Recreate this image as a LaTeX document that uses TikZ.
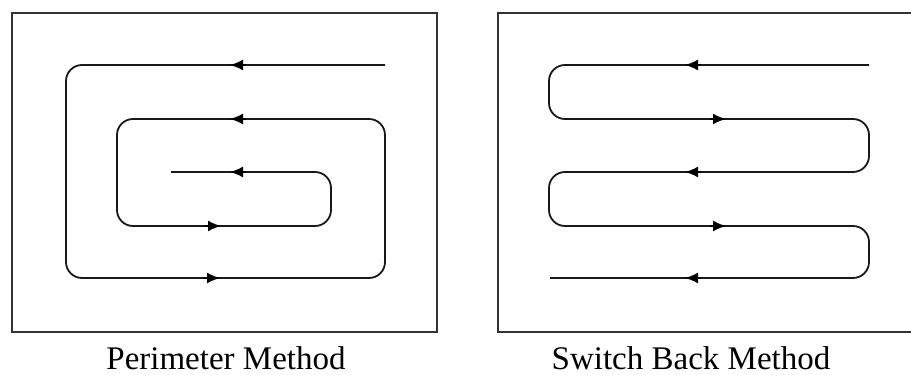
\documentclass[tikz,border=0pt]{standalone}
\usepackage{fontspec}
\setmainfont{Liberation Serif}
\usetikzlibrary{arrows.meta}
\begin{document}
\begin{tikzpicture}[x=1pt,y=-1pt,
  frame/.style={line width=2.2pt,draw=black!80},
  route/.style={line width=1.8pt,draw=black!90,rounded corners=16pt},
  dirtip/.style={line width=1.8pt,-{Latex[length=13pt,width=11pt]}},
  caption/.style={font=\fontsize{33}{36}\selectfont,anchor=base,inner sep=0pt,text depth=0pt}]
\useasboundingbox (0,0) rectangle (911,375);
\clip (0,0) rectangle (911,375);
% frames
\draw[frame] (12,13) rectangle (437,332);
\draw[frame] (915,13) -- (498,13) -- (498,332) -- (915,332);
% perimeter route
\draw[route] (385,65) -- (66,65) -- (66,278) -- (385,278) -- (385,119)
  -- (117,119) -- (117,226) -- (331,226) -- (331,172) -- (171,172);
% switch back route
\draw[route] (869,65) -- (549,65) -- (549,119) -- (869,119) -- (869,172)
  -- (549,172) -- (549,226) -- (869,226) -- (869,278) -- (550,278);
% arrow tips perimeter
\coordinate (pa1) at (230,65);  \coordinate (pa1s) at (246,65);
\coordinate (pa2) at (230,119); \coordinate (pa2s) at (246,119);
\coordinate (pa3) at (230,172); \coordinate (pa3s) at (246,172);
\coordinate (pa4) at (221,226); \coordinate (pa4s) at (205,226);
\coordinate (pa5) at (220,278); \coordinate (pa5s) at (204,278);
\foreach \a in {pa1,pa2,pa3,pa4,pa5} \draw[dirtip] (\a s) -- (\a);
% arrow tips switch back
\coordinate (sa1) at (685,65);  \coordinate (sa1s) at (701,65);
\coordinate (sa2) at (726,119); \coordinate (sa2s) at (710,119);
\coordinate (sa3) at (685,172); \coordinate (sa3s) at (701,172);
\coordinate (sa4) at (726,226); \coordinate (sa4s) at (710,226);
\coordinate (sa5) at (685,278); \coordinate (sa5s) at (701,278);
\foreach \a in {sa1,sa2,sa3,sa4,sa5} \draw[dirtip] (\a s) -- (\a);
% captions
\node[caption] (capL) at (226,369) {Perimeter Method};
\node[caption] (capR) at (691,369) {Switch Back Method};
\end{tikzpicture}
\end{document}
